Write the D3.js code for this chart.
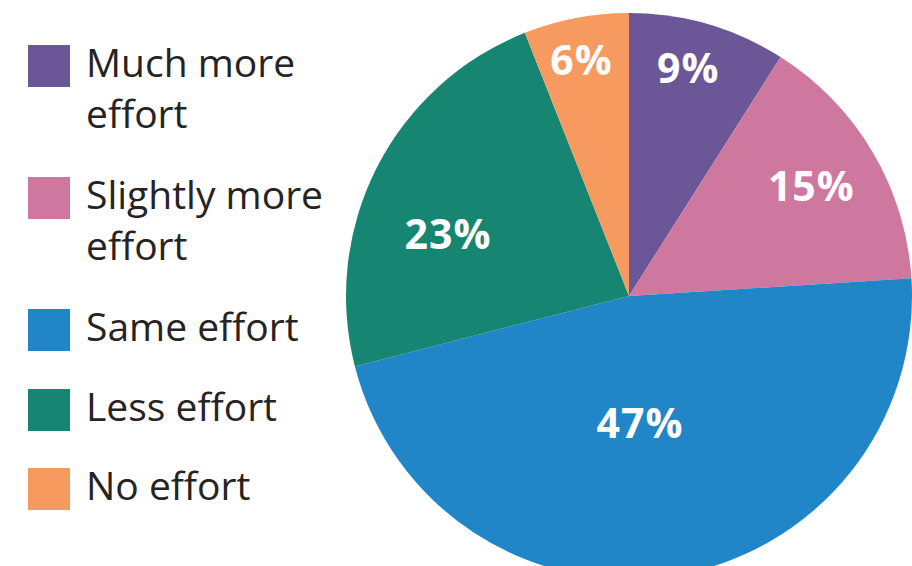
<!DOCTYPE html>
<html>
<head>
<meta charset="utf-8">
<script src="https://cdn.jsdelivr.net/npm/d3@7"></script>
<style>
  html, body { margin: 0; padding: 0; background: #fff; }
  svg { display: block; }
</style>
</head>
<body>
<svg id="chart" width="912" height="566"></svg>
<script>
const categories = ["Much more effort", "Slightly more effort", "Same effort", "Less effort", "No effort"];
const legendLines = [["Much more", "effort"], ["Slightly more", "effort"], ["Same effort"], ["Less effort"], ["No effort"]];
const values = [9, 15, 47, 23, 6];
const labels = ["9%", "15%", "47%", "23%", "6%"];
const colors = ["#6b5698", "#cf789f", "#2186c8", "#168571", "#f79a60"];

const svg = d3.select("#chart");
const cx = 629, cy = 296, R = 283;

const pie = d3.pie().sort(null).value(d => d)(values);
const arc = d3.arc().innerRadius(0).outerRadius(R);

const g = svg.append("g").attr("transform", `translate(${cx},${cy})`);
g.selectAll("path").data(pie).enter().append("path")
  .attr("d", arc)
  .attr("fill", (d, i) => colors[i]);

// label placement (radius fraction, angle nudge in radians)
const labelPos = [[0.832, -0.031], [0.751, -0.01], [0.450, 0.075], [0.678, -0.141], [0.851, -0.012]];
g.selectAll("text.lbl").data(pie).enter().append("text")
  .attr("class", "lbl")
  .each(function(d, i) {
    const a = (d.startAngle + d.endAngle) / 2 + labelPos[i][1];
    const r = R * labelPos[i][0];
    d3.select(this)
      .attr("x", Math.sin(a) * r + 0.5)
      .attr("y", -Math.cos(a) * r);
  })
  .attr("text-anchor", "middle")
  .attr("dy", "0.36em")
  .attr("fill", "#fff")
  .attr("font-family", "'Open Sans', sans-serif")
  .attr("font-weight", 700)
  .attr("font-size", 41)
  .attr("letter-spacing", 1)
  .text((d, i) => labels[i]);

// legend
const legendTops = [45, 177, 309, 389, 468];
const lg = svg.append("g");
categories.forEach((c, i) => {
  const y = legendTops[i];
  lg.append("rect").attr("x", 28).attr("y", y).attr("width", 42).attr("height", 42).attr("fill", colors[i]);
  const t = lg.append("text")
    .attr("x", 86).attr("y", y + 32)
    .attr("fill", "#262324")
    .attr("font-family", "'Open Sans', sans-serif")
    .attr("font-size", 39);
  legendLines[i].forEach((line, j) => {
    t.append("tspan").attr("x", 86).attr("dy", j === 0 ? 0 : 51).text(line);
  });
});
</script>
</body>
</html>
